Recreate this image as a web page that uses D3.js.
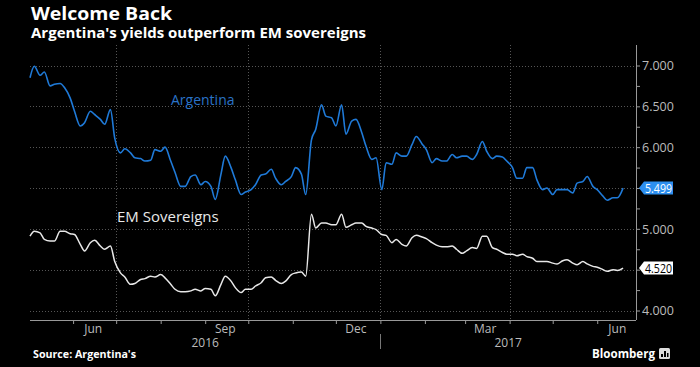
<!DOCTYPE html>
<html>
<head>
<meta charset="utf-8">
<script src="https://cdn.jsdelivr.net/npm/d3@7"></script>
<style>
  body { margin: 0; background: #000; }
  svg { display: block; }
</style>
</head>
<body>
<div class="chart"></div>
<script>
// Data (twice-weekly samples, Mon/Thu)
var dates = [
  "2016-05-02","2016-05-05","2016-05-09","2016-05-12","2016-05-16","2016-05-19","2016-05-23","2016-05-26",
  "2016-05-30","2016-06-02","2016-06-06","2016-06-09","2016-06-13","2016-06-16","2016-06-20","2016-06-23",
  "2016-06-27","2016-06-30","2016-07-04","2016-07-07","2016-07-11","2016-07-14","2016-07-18","2016-07-21",
  "2016-07-25","2016-07-28","2016-08-01","2016-08-04","2016-08-08","2016-08-11","2016-08-15","2016-08-18",
  "2016-08-22","2016-08-25","2016-08-29","2016-09-01","2016-09-05","2016-09-08","2016-09-12","2016-09-15",
  "2016-09-19","2016-09-22","2016-09-26","2016-09-29","2016-10-03","2016-10-06","2016-10-10","2016-10-13",
  "2016-10-17","2016-10-20","2016-10-24","2016-10-27","2016-10-31","2016-11-03","2016-11-07","2016-11-10",
  "2016-11-14","2016-11-17","2016-11-21","2016-11-24","2016-11-28","2016-12-01","2016-12-05","2016-12-08",
  "2016-12-12","2016-12-15","2016-12-19","2016-12-22","2016-12-26","2016-12-29","2017-01-02","2017-01-05",
  "2017-01-09","2017-01-12","2017-01-16","2017-01-19","2017-01-23","2017-01-26","2017-01-30","2017-02-02",
  "2017-02-06","2017-02-09","2017-02-13","2017-02-16","2017-02-20","2017-02-23","2017-02-27","2017-03-02",
  "2017-03-06","2017-03-09","2017-03-13","2017-03-16","2017-03-20","2017-03-23","2017-03-27","2017-03-30",
  "2017-04-03","2017-04-06","2017-04-10","2017-04-13","2017-04-17","2017-04-20","2017-04-24","2017-04-27",
  "2017-05-01","2017-05-04","2017-05-08","2017-05-11","2017-05-15","2017-05-18","2017-05-22","2017-05-25",
  "2017-05-29","2017-06-01","2017-06-05","2017-06-08","2017-06-12","2017-06-15","2017-06-19"
];

var argentina = [
  6.85, 6.99, 6.88, 6.92, 6.75, 6.77, 6.78, 6.73,
  6.60, 6.44, 6.26, 6.30, 6.44, 6.40, 6.34, 6.28,
  6.46, 6.11, 5.93, 5.98, 5.93, 5.87, 5.86, 5.83,
  5.84, 5.97, 5.95, 6.00, 5.83, 5.69, 5.52, 5.52,
  5.64, 5.66, 5.54, 5.58, 5.52, 5.36, 5.67, 5.89,
  5.75, 5.60, 5.42, 5.45, 5.48, 5.54, 5.66, 5.67,
  5.73, 5.62, 5.54, 5.58, 5.64, 5.75, 5.67, 5.42,
  6.09, 6.22, 6.52, 6.38, 6.36, 6.26, 6.52, 6.16,
  6.32, 6.34, 6.18, 6.01, 5.85, 5.87, 5.48, 5.81,
  5.79, 5.93, 5.89, 5.89, 6.03, 6.13, 6.04, 5.97,
  5.81, 5.86, 5.83, 5.83, 5.91, 5.87, 5.89, 5.89,
  5.85, 5.91, 6.07, 5.95, 5.86, 5.89, 5.88, 5.83,
  5.75, 5.62, 5.62, 5.75, 5.75, 5.60, 5.48, 5.50,
  5.42, 5.48, 5.48, 5.48, 5.44, 5.56, 5.58, 5.64,
  5.52, 5.48, 5.40, 5.35, 5.38, 5.38, 5.499
];

var emSovereigns = [
  4.91, 4.97, 4.95, 4.87, 4.85, 4.85, 4.97, 4.97,
  4.94, 4.93, 4.81, 4.73, 4.83, 4.86, 4.79, 4.75,
  4.79, 4.60, 4.46, 4.41, 4.32, 4.33, 4.38, 4.39,
  4.42, 4.41, 4.44, 4.40, 4.32, 4.26, 4.23, 4.23,
  4.24, 4.26, 4.24, 4.27, 4.26, 4.18, 4.32, 4.42,
  4.36, 4.28, 4.22, 4.26, 4.26, 4.30, 4.34, 4.40,
  4.41, 4.37, 4.33, 4.36, 4.44, 4.46, 4.47, 4.42,
  5.18, 5.01, 5.07, 5.07, 5.05, 5.05, 5.18, 5.02,
  5.05, 5.07, 5.07, 5.03, 5.01, 4.99, 4.93, 4.92,
  4.83, 4.87, 4.81, 4.79, 4.89, 4.92, 4.90, 4.88,
  4.83, 4.80, 4.78, 4.78, 4.79, 4.75, 4.70, 4.73,
  4.77, 4.76, 4.91, 4.91, 4.77, 4.75, 4.71, 4.69,
  4.69, 4.67, 4.69, 4.66, 4.64, 4.60, 4.60, 4.60,
  4.58, 4.57, 4.61, 4.62, 4.58, 4.56, 4.60, 4.57,
  4.54, 4.53, 4.50, 4.48, 4.50, 4.49, 4.520
];

var yTicks = [4.0, 4.5, 5.0, 5.5, 6.0, 6.5, 7.0];
var yTickLabels = [4.0, 5.0, 6.0, 6.5, 7.0]; // 4.5 and 5.5 sit under the last-value tags
var monthLabels = ["Jun", "Sep", "Dec", "Mar", "Jun"];
var monthLabelDates = ["2016-06-15", "2016-09-15", "2016-12-15", "2017-03-15", "2017-06-15"];
var years = ["2016", "2017"];
var yearCenters = ["2016-09-01", "2017-03-31"];

var svgWidth = 700;
var svgHeight = 367;
var margin = { top: 45, right: 64, bottom: 47, left: 30 };
var chartWidth = svgWidth - margin.left - margin.right,
    chartHeight = svgHeight - margin.top - margin.bottom;

var font = "'Open Sans', sans-serif";
var parse = d3.timeParse("%Y-%m-%d");
var argData = dates.map((d, i) => ({ date: parse(d), value: argentina[i] }));
var emData = dates.map((d, i) => ({ date: parse(d), value: emSovereigns[i] }));

var svg = d3.select(".chart").append("svg")
  .attr("width", svgWidth)
  .attr("height", svgHeight)
  .style("background", "#000");

// titles
svg.append("text")
  .attr("x", 31).attr("y", 20)
  .attr("fill", "#fff")
  .attr("textLength", 141)
  .attr("lengthAdjust", "spacingAndGlyphs")
  .style("font-family", font)
  .style("font-weight", "bold")
  .style("font-size", "18.5px")
  .text("Welcome Back");

svg.append("text")
  .attr("x", 31).attr("y", 38)
  .attr("fill", "#fff")
  .attr("textLength", 335)
  .attr("lengthAdjust", "spacingAndGlyphs")
  .style("font-family", font)
  .style("font-weight", "bold")
  .style("font-size", "13.5px")
  .text("Argentina's yields outperform EM sovereigns");

var chartGroup = svg.append("g")
  .attr("transform", `translate(${margin.left}, ${margin.top})`);

var x = d3.scaleTime()
  .domain([parse("2016-05-02"), parse("2017-06-28")])
  .range([0, chartWidth]);

var y = d3.scaleLinear()
  .domain([4.0, 7.0])
  .range([265.5, 20.5]);

// horizontal dotted gridlines
chartGroup.append("g")
  .selectAll("line")
  .data(yTicks)
  .enter()
  .append("line")
  .attr("x1", 0).attr("x2", chartWidth)
  .attr("y1", d => Math.round(y(d)) + 0.5)
  .attr("y2", d => Math.round(y(d)) + 0.5)
  .attr("stroke", "#555")
  .attr("stroke-dasharray", "1,2");

// vertical dotted gridlines at quarters
var quarters = d3.timeMonth.every(3).range(parse("2016-07-01"), parse("2017-06-01"));
chartGroup.append("g")
  .selectAll("line")
  .data(quarters)
  .enter()
  .append("line")
  .attr("x1", d => Math.round(x(d)) + 0.5)
  .attr("x2", d => Math.round(x(d)) + 0.5)
  .attr("y1", 0).attr("y2", chartHeight)
  .attr("stroke", "#555")
  .attr("stroke-dasharray", "1,2");

// right axis
var rightAxis = d3.axisRight(y)
  .tickValues(d3.range(4.0, 7.01, 0.25))
  .tickSize(4)
  .tickFormat(d => yTickLabels.some(t => Math.abs(t - d) < 1e-6) ? d3.format(".3f")(d) : "");

var rAxis = chartGroup.append("g")
  .attr("transform", `translate(${chartWidth}, 0)`)
  .call(rightAxis);
rAxis.select(".domain").attr("d", `M0.5,0V${chartHeight}`).attr("stroke", "#999");
rAxis.selectAll(".tick line").attr("stroke", "#999");
rAxis.selectAll(".tick text")
  .attr("fill", "#bbb")
  .attr("x", 6)
  .attr("dy", "0.35em")
  .style("font-family", font)
  .style("font-size", "12.5px");

// bottom axis
var bottomAxis = d3.axisBottom(x)
  .ticks(d3.timeMonth.every(1))
  .tickSize(4)
  .tickFormat("");
var bAxis = chartGroup.append("g")
  .attr("transform", `translate(0, ${chartHeight})`)
  .call(bottomAxis);
bAxis.select(".domain").attr("d", `M0,0.5H${chartWidth}`).attr("stroke", "#999");
bAxis.selectAll(".tick line").attr("stroke", "#999");

chartGroup.append("g")
  .selectAll("text")
  .data(monthLabels)
  .enter()
  .append("text")
  .attr("x", (d, i) => x(parse(monthLabelDates[i])))
  .attr("y", chartHeight + 13)
  .attr("text-anchor", "middle")
  .attr("fill", "#bbb")
  .style("font-family", font)
  .style("font-size", "12px")
  .text(d => d);

chartGroup.append("g")
  .selectAll("text")
  .data(years)
  .enter()
  .append("text")
  .attr("x", (d, i) => x(parse(yearCenters[i])))
  .attr("y", chartHeight + 27)
  .attr("text-anchor", "middle")
  .attr("fill", "#bbb")
  .style("font-family", font)
  .style("font-size", "12px")
  .text(d => d);

// year separator
chartGroup.append("line")
  .attr("x1", Math.round(x(parse("2017-01-01"))) + 0.5)
  .attr("x2", Math.round(x(parse("2017-01-01"))) + 0.5)
  .attr("y1", chartHeight + 14).attr("y2", chartHeight + 29)
  .attr("stroke", "#777");

// lines
var line = d3.line()
  .x(d => x(d.date))
  .y(d => y(d.value))
  .curve(d3.curveMonotoneX);

chartGroup.append("path")
  .datum(emData)
  .attr("fill", "none")
  .attr("stroke", "#e8e8e8")
  .attr("stroke-width", 1.5)
  .attr("d", line);

chartGroup.append("path")
  .datum(argData)
  .attr("fill", "none")
  .attr("stroke", "#1f7ad8")
  .attr("stroke-width", 1.6)
  .attr("d", line);

// series labels
chartGroup.append("text")
  .attr("x", 141).attr("y", 60)
  .attr("fill", "#2a73c8")
  .style("font-family", font)
  .style("font-size", "14px")
  .text("Argentina");

chartGroup.append("text")
  .attr("x", 87).attr("y", 177)
  .attr("fill", "#e8e8e8")
  .style("font-family", font)
  .style("font-size", "15px")
  .text("EM Sovereigns");

// last value tags
function lastTag(value, fill, textColor) {
  var yy = y(value);
  var g = chartGroup.append("g")
    .attr("transform", `translate(${chartWidth + 3}, ${yy})`);
  g.append("path")
    .attr("d", "M0,0L5,-6.5H34V6.5H5Z")
    .attr("fill", fill);
  g.append("text")
    .attr("x", 6).attr("y", 4.5)
    .attr("fill", textColor)
    .attr("textLength", 27)
    .attr("lengthAdjust", "spacingAndGlyphs")
    .style("font-family", font)
    .style("font-size", "12.5px")
    .text(d3.format(".3f")(value));
}
lastTag(argentina[argentina.length - 1], "#2d8ff0", "#fff");
lastTag(emSovereigns[emSovereigns.length - 1], "#fff", "#000");

// footer
svg.append("text")
  .attr("x", 33).attr("y", 358)
  .attr("fill", "#fff")
  .attr("textLength", 103)
  .attr("lengthAdjust", "spacingAndGlyphs")
  .style("font-family", font)
  .style("font-weight", "bold")
  .style("font-size", "10px")
  .text("Source: Argentina's");

svg.append("text")
  .attr("x", 592).attr("y", 358)
  .attr("fill", "#fff")
  .attr("textLength", 63)
  .attr("lengthAdjust", "spacingAndGlyphs")
  .style("font-family", font)
  .style("font-weight", "bold")
  .style("font-size", "12.5px")
  .text("Bloomberg");

var logo = svg.append("g").attr("transform", "translate(659, 348)");
logo.append("rect").attr("width", 11).attr("height", 11).attr("rx", 1.5).attr("fill", "#ddd");
logo.append("rect").attr("x", 2).attr("y", 6).attr("width", 2).attr("height", 3).attr("fill", "#000");
logo.append("rect").attr("x", 5).attr("y", 3).attr("width", 2).attr("height", 6).attr("fill", "#000");
logo.append("rect").attr("x", 8).attr("y", 5).attr("width", 1.5).attr("height", 4).attr("fill", "#000");
</script>
</body>
</html>
